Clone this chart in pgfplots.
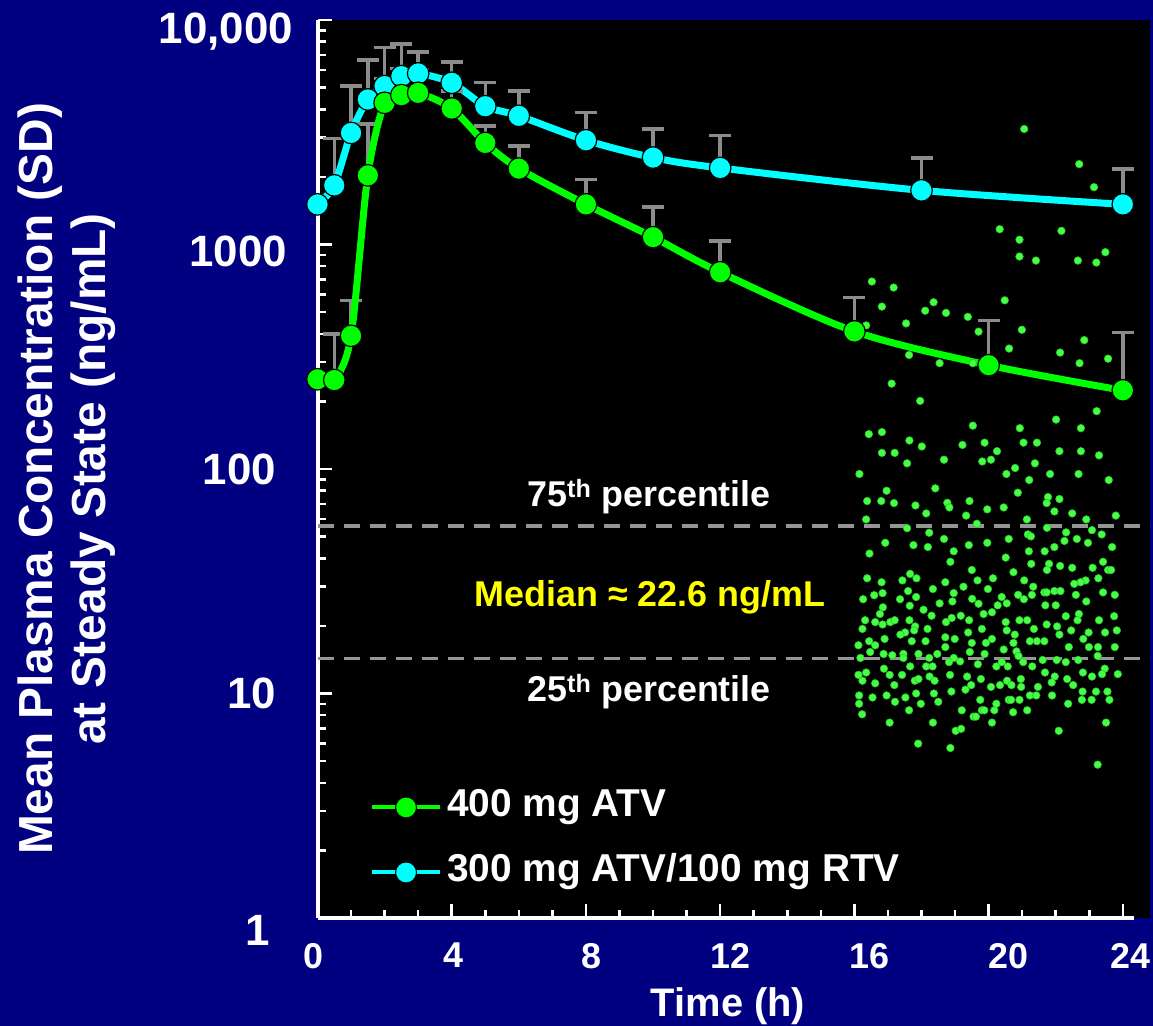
\documentclass[border=0pt]{standalone}
\usepackage{fontspec}
\setmainfont{Liberation Sans}
\usepackage{pgfplots}
\usepackage{pgfplotstable}
\pgfplotsset{compat=1.18}

\definecolor{navybg}{RGB}{0,0,128}
\definecolor{ptgreen}{RGB}{0,255,0}
\definecolor{ptcyan}{RGB}{0,255,255}
\definecolor{sdgray}{RGB}{140,140,140}
\definecolor{dashgray}{RGB}{150,150,150}
\definecolor{dotgreen}{RGB}{70,255,70}
\definecolor{dotrim}{RGB}{40,200,40}
\definecolor{medyellow}{RGB}{255,255,0}

\newcommand\ytickfont{\fontsize{44}{48}\selectfont\bfseries}
\newcommand\xtickfont{\fontsize{36}{40}\selectfont\bfseries}
\newcommand\ylabfont{\fontsize{48}{53}\selectfont\bfseries}
\newcommand\xlabfont{\fontsize{40}{44}\selectfont\bfseries}
\newcommand\legfont{\fontsize{39}{43}\selectfont\bfseries}
\newcommand\notefont{\fontsize{36}{40}\selectfont\bfseries}
% shifted tick labels: #1 = twice the horizontal shift
\newcommand\xl[2]{\makebox[0pt]{\hspace{#1}#2}}
% #1 = extra room on the right, #2 = vertical shift
\newcommand\yl[3]{\raisebox{#2}[\height][\depth]{#3}\kern#1\relax}

% mean concentration (ng/mL) of each regimen
\pgfplotstableread{
t   m
0   251
0.5 249
1   392
1.5 2032
2   4275
2.5 4626
3   4735
4   4034
5   2833
6   2178
8   1509
10  1078
12  752
16  410
20  290
24  224
}\atvmean
\pgfplotstableread{
t   m     sd
0.5 249   150
1   392   170
1.5 2032  1401
2   4275  1217
2.5 4626  1459
3   4735  1265
4   4034  800
5   2833  531
6   2178  570
8   1509  435
10  1078  389
12  752   283
16  410   170
20  290   169
24  224   182
}\atvsd
\pgfplotstableread{
t   m
0   1509
0.5 1834
1   3140
1.5 4426
2   5076
2.5 5623
3   5781
4   5250
5   4130
6   3741
8   2912
10  2438
12  2192
18  1742
24  1509
}\rtvmean
\pgfplotstableread{
t   m     sd
0.5 1834  1131
1   3140  1933
1.5 4426  2199
2   5076  2474
2.5 5623  2192
3   5781  1416
4   5250  1262
5   4130  1140
6   3741  1080
8   2912  961
10  2438  835
12  2192  864
18  1742  686
24  1509  660
}\rtvsd

% individual concentrations, 16-24 h after the 400 mg ATV dose
\pgfplotstableread{
t c
21.06 3270
22.70 2280
23.14 1800
20.33 1170
20.92 1050
22.17 1150
20.92 884
21.41 848
22.66 848
23.21 831
23.48 924
16.52 684
17.17 643
16.82 529
18.36 553
18.11 507
18.73 496
19.38 476
20.48 564
17.54 445
16.35 436
20.99 417
19.70 409
22.85 375
20.61 344
22.13 330
22.71 296
23.56 310
17.63 322
18.54 296
19.53 296
17.11 240
17.96 201
23.22 181
22.01 166
19.53 156
20.93 152
22.75 152
16.43 143
16.82 146
17.64 134
18.01 126
19.22 128
19.88 131
21.04 131
21.44 131
20.25 120
22.11 120
22.75 120
23.29 115
16.82 118
17.20 118
17.57 106
18.67 110
19.81 108
20.07 110
16.15 95.0
18.41 82.0
16.96 80.0
16.38 72.0
16.80 72.0
17.18 70.5
17.82 68.8
18.77 70.7
18.83 67.4
19.43 72.0
19.96 66.1
18.14 63.4
19.33 62.0
16.35 59.6
19.65 57.0
17.57 54.5
18.23 52.0
18.67 48.8
16.92 46.9
17.76 45.8
18.19 44.9
19.41 45.8
19.96 46.9
16.45 42.0
18.96 43.0
18.86 38.6
19.50 35.5
17.66 34.1
16.38 32.6
17.85 32.6
20.13 32.6
16.81 31.3
17.43 31.9
18.71 31.3
19.67 31.9
19.25 29.9
18.34 29.2
19.98 29.2
17.60 28.6
16.84 28.0
18.96 28.0
16.59 27.4
17.84 26.9
16.26 26.3
17.36 26.3
19.51 26.4
18.54 25.2
18.92 25.7
19.70 25.1
17.65 24.6
16.85 24.2
18.06 23.6
21.38 106
20.79 101
20.53 95.0
21.83 95.0
22.68 95.0
21.21 89.3
23.58 89.3
20.87 78.4
21.77 75.0
22.11 73.5
21.73 70.5
20.45 67.4
21.96 64.7
22.49 63.4
23.79 62.0
21.14 59.6
22.91 59.6
21.74 54.7
23.08 53.4
22.31 52.2
21.17 51.1
21.26 50.1
23.37 51.1
20.60 48.8
22.63 48.8
22.26 47.8
22.96 46.9
21.96 44.9
23.68 44.9
21.20 43.0
21.67 43.0
20.51 40.3
21.27 37.8
21.80 37.8
22.13 37.0
23.41 38.6
22.49 36.3
23.10 36.3
21.74 35.5
23.56 35.5
23.65 35.5
20.74 34.7
21.06 31.9
23.27 32.6
22.89 31.9
22.74 31.3
22.55 30.8
21.33 29.9
21.66 28.2
21.73 28.2
21.96 28.6
22.14 28.6
22.60 27.5
23.41 28.2
23.76 27.5
20.39 26.9
20.88 27.5
21.29 27.5
21.05 26.3
22.91 25.7
20.54 25.2
20.27 24.7
21.69 24.7
22.00 24.7
16.76 22.6
18.30 22.2
18.90 21.7
19.17 22.2
19.85 22.6
20.10 23.0
16.32 21.2
16.62 20.8
16.84 20.3
17.07 20.8
17.20 21.2
17.64 21.2
18.73 20.8
19.42 21.2
16.24 19.4
17.81 19.9
17.78 19.1
18.18 19.4
19.80 19.4
19.39 18.7
17.51 18.7
17.37 18.3
17.71 17.1
18.12 17.1
18.71 17.8
18.99 17.5
20.10 17.5
19.92 16.8
16.90 17.5
16.44 17.1
16.12 16.4
16.62 16.4
19.50 16.8
18.71 16.1
16.47 15.3
16.87 15.0
17.13 14.8
17.46 15.0
17.46 14.4
17.91 15.0
18.47 15.0
19.44 15.3
19.88 15.0
16.18 14.4
18.23 14.4
18.96 14.4
19.15 13.9
18.82 13.8
19.68 13.5
17.66 13.2
18.14 13.2
18.33 13.2
16.88 12.9
16.12 12.1
16.35 12.4
17.05 12.1
17.42 12.1
18.24 11.9
18.85 12.1
19.36 11.9
16.24 11.4
16.62 11.1
17.80 11.4
17.91 11.6
18.39 11.4
17.19 10.9
19.48 10.9
19.31 10.4
19.77 11.6
20.07 10.7
16.14 9.80
16.54 9.60
16.96 9.80
17.84 10.0
18.37 10.0
18.89 10.2
17.52 9.60
17.21 9.18
17.98 9.00
18.50 9.18
19.75 9.37
16.14 9.00
17.63 8.42
19.20 8.42
19.80 8.42
19.87 8.42
20.17 8.42
16.23 8.08
19.55 7.89
19.62 7.89
17.05 7.42
18.34 7.42
20.10 7.42
19.02 6.82
19.18 6.96
17.90 5.98
18.86 5.72
22.69 22.6
22.30 22.1
23.74 22.1
20.51 20.8
20.92 21.2
21.15 21.2
21.73 20.3
22.04 19.9
22.65 21.2
23.29 21.2
20.54 19.1
21.35 19.4
22.46 19.1
22.98 18.7
23.47 18.7
23.82 19.1
20.78 18.3
22.11 18.3
22.82 17.5
21.23 17.1
21.44 17.1
21.66 17.1
20.74 16.8
22.39 16.1
22.99 16.1
23.26 16.1
23.76 16.1
20.45 15.7
20.83 15.4
20.89 14.7
23.25 14.7
21.03 13.8
21.61 14.1
22.03 14.1
22.30 13.8
22.67 14.1
20.23 13.2
20.57 13.2
21.30 13.2
20.39 13.8
23.46 12.9
23.85 12.2
21.68 12.4
22.81 12.4
23.38 12.2
21.97 11.9
23.08 11.9
20.55 11.4
20.96 11.6
22.34 11.6
21.88 11.2
20.34 10.9
20.68 10.9
20.97 10.7
21.47 10.7
22.52 10.9
22.80 10.2
23.20 10.2
23.54 10.2
21.23 9.80
21.42 9.80
21.89 9.80
20.60 9.37
20.67 9.37
20.92 9.37
22.78 9.37
23.07 9.37
23.60 9.37
20.23 9.00
22.37 9.00
20.73 8.25
21.15 8.42
23.50 7.42
22.09 6.82
23.25 4.82
}\troughs

\begin{document}
\begin{tikzpicture}[x=1bp,y=1bp]
\fill[navybg] (0,0) rectangle (1153,1026);
\useasboundingbox (0,0) rectangle (1153,1026);

\begin{axis}[
  at={(317.5bp,108bp)}, anchor=south west,
  scale only axis, width=832.5bp, height=898bp,
  xmin=0, xmax=24.81, ymin=1, ymax=10000, ymode=log,
  axis background/.style={fill=black},
  axis x line=bottom, axis y line=left,
  axis line style={white, line width=4bp, -},
  x axis line style={shorten >=16bp},
  tick align=inside,
  major tick length=14bp, minor tick length=8bp,
  tick style={white, line width=2.5bp},
  xtick={0,4,8,12,16,20,24}, minor x tick num=3,
  xticklabels={\xl{-9bp}{0},\xl{2.6bp}{4},\xl{12bp}{8},\xl{20bp}{12},\xl{31bp}{16},\xl{39bp}{20},\xl{15bp}{24}},
  xticklabel style={font=\xtickfont, text=white, anchor=north, inner sep=0pt, yshift=-25bp},
  ytick={1,10,100,1000,10000},
  yticklabels={\yl{23bp}{-12bp}{1},\yl{17bp}{0bp}{10},\yl{17bp}{0bp}{100},\yl{6bp}{-7bp}{1000},\yl{0bp}{-8bp}{10,000}},
  yticklabel style={font=\ytickfont, text=white, anchor=east, inner sep=0pt, xshift=-24.5bp, text depth=0pt},
  legend image code/.code={\draw[mark repeat=2, mark phase=2, #1] plot coordinates {(0bp,0bp) (34bp,0bp) (68bp,0bp)};},
  legend style={at={(axis description cs:0.0631,0.1437)}, anchor=north west, draw=none, fill=none,
    inner sep=0pt, outer sep=0pt, font=\legfont, text=white, row sep=28bp,
    nodes={inner sep=0pt, text height=28bp, text depth=9bp},
    /tikz/every odd column/.append style={column sep=5bp}},
  legend cell align=left,
]
\addlegendimage{ptgreen, line width=4bp, mark=*, mark size=10.5bp, mark options={fill=ptgreen, draw=black, line width=1bp}}
\addlegendentry{400 mg ATV}
\addlegendimage{ptcyan, line width=4bp, mark=*, mark size=10.5bp, mark options={fill=ptcyan, draw=black, line width=1bp}}
\addlegendentry{300 mg ATV/100 mg RTV}

% 25th and 75th percentiles of the trough values
\addplot[forget plot, dashgray, line width=3.5bp, dash pattern=on 16bp off 10bp] coordinates {(0,55.8) (24.81,55.8)};
\addplot[forget plot, dashgray, line width=3.5bp, dash pattern=on 16bp off 10bp] coordinates {(0,14.3) (24.81,14.3)};

% individual values
\addplot[forget plot, only marks, mark=*, mark size=3.8bp, mark options={fill=dotgreen, draw=dotrim, line width=0.6bp}] table[x=t, y=c] {\troughs};

% ATV/RTV: SD bars, then the mean curve
\addplot[forget plot, only marks, mark=none,
  error bars/.cd, y dir=plus, y explicit,
  error bar style={draw=sdgray, line width=3.5bp},
  error mark=|, error mark options={draw=sdgray, line width=3.5bp, mark size=11bp}]
  table[x=t, y=m, y error=sd] {\rtvsd};
\addplot[forget plot, ptcyan, line width=7bp, smooth, tension=0.5, mark=*, mark size=10.8bp,
  mark options={fill=ptcyan, draw=black, line width=1.2bp}] table[x=t, y=m] {\rtvmean};

% ATV alone
\addplot[forget plot, only marks, mark=none,
  error bars/.cd, y dir=plus, y explicit,
  error bar style={draw=sdgray, line width=3.5bp},
  error mark=|, error mark options={draw=sdgray, line width=3.5bp, mark size=11bp}]
  table[x=t, y=m, y error=sd] {\atvsd};
\addplot[forget plot, ptgreen, line width=7bp, smooth, tension=0.5, mark=*, mark size=10.8bp,
  mark options={fill=ptgreen, draw=black, line width=1.2bp}] table[x=t, y=m] {\atvmean};
\end{axis}

\node[font=\notefont, text=white] at (649,529) {75\textsuperscript{th} percentile};
\node[font=\notefont, text=medyellow] at (650,429) {Median ≈ 22.6 ng/mL};
\node[font=\notefont, text=white] at (649,334) {25\textsuperscript{th} percentile};

\node[font=\ylabfont, text=white, rotate=90, align=center] at (66.5,547) {Mean Plasma Concentration (SD)\\at Steady State (ng/mL)};
\node[font=\xlabfont, text=white, anchor=base] at (728,9) {Time (h)};
\end{tikzpicture}
\end{document}
